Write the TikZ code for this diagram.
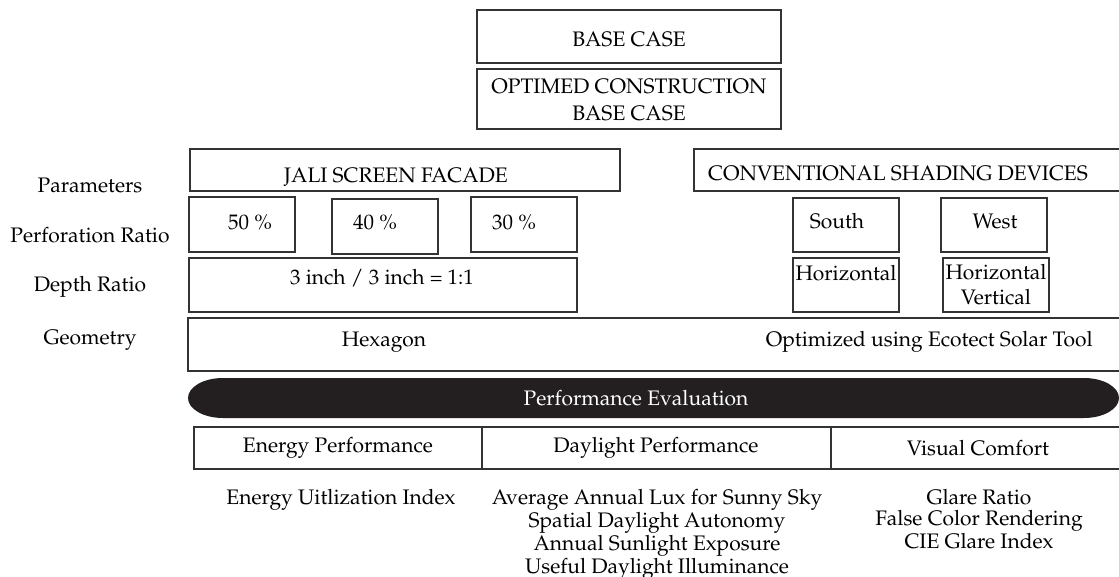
\documentclass[tikz,border=0pt]{standalone}
\usepackage[T1]{fontenc}
\usepackage{mathpazo}

\definecolor{linegray}{HTML}{333333}
\definecolor{pillblack}{HTML}{231F20}

\tikzset{
  frame/.style={draw=linegray, line width=0.75pt},
  txt/.style={inner sep=0pt, font=\fontsize{10.5}{12.6}\selectfont},
  list/.style={inner sep=0pt, align=center, font=\fontsize{10.5}{10.5}\selectfont},
}

\begin{document}
\begin{tikzpicture}[x=0.5pt, y=-0.5pt]
        \useasboundingbox (0,0) rectangle (1119,577);
        % base case boxes
        \draw[frame] (477,10) rectangle (781,63);
        \draw[frame] (477,69) rectangle (781,129);
        \node[txt] (base) at (629,39) {BASE CASE};
        \node[txt, align=center] (optimed) at (629,100) {OPTIMED CONSTRUCTION\\[1pt]BASE CASE};
        % row labels
        \foreach \l/\y [count=\i] in {Parameters/185, Perforation Ratio/235, Depth Ratio/287, Geometry/340}
          \node[txt] (label-\i) at (90,\y) {\l};
        % parameters
        \draw[frame] (190,149) rectangle (620,191);
        \draw[frame] (694,149) rectangle (1125,191);
        \node[txt] (jali) at (396,177) {JALI SCREEN FACADE};
        \node[txt] (conv) at (898,173) {CONVENTIONAL SHADING DEVICES};
        % perforation ratio
        \foreach \x/\t/\c/\p [count=\i] in {189/197/250/50, 332/199/375/40, 471/197/514/30}
          {
          \draw[frame] (\x,\t) rectangle (\x+106,\t+55);
          \node[txt] (perf-\i) at (\c,222) {\p{} \%};
          }
        \foreach \x/\c/\d [count=\i] in {793/837/South, 941/995/West}
          {
          \draw[frame] (\x,198) rectangle (\x+106,252);
          \node[txt] (side-\i) at (\c,221) {\d};
          }
        % depth ratio
        \draw[frame] (189,258) rectangle (577,312);
        \node[txt] (depth) at (382,278) {3 inch / 3 inch = 1:1};
        \draw[frame] (793,258) rectangle (899,312);
        \node[txt] (horz) at (846,273) {Horizontal};
        \draw[frame] (943,258) rectangle (1049,312);
        \node[txt, align=center] (horzvert) at (996,285) {Horizontal\\Vertical};
        % geometry
        \draw[frame] (188,318) rectangle (1125,371);
        \node[txt] (hexagon) at (384,342) {Hexagon};
        \node[txt, anchor=east] (ecotect) at (1093,342) {Optimized using Ecotect Solar Tool};
        % performance evaluation
        \fill[pillblack] (223,378) -- (1084,378)
          arc[start angle=-90, end angle=90, x radius=35, y radius=20]
          -- (223,418)
          arc[start angle=90, end angle=270, x radius=35, y radius=20] -- cycle;
        \node[txt, text=white] (evaluation) at (636,398) {Performance Evaluation};
        % criteria
        \draw[frame] (194,427) rectangle (1125,469);
        \draw[frame] (482,427) -- (482,469);
        \draw[frame] (831,427) -- (831,469);
        \foreach \l/\x [count=\i] in {Energy Performance/338, Daylight Performance/656, Visual Comfort/978}
          \node[txt] (crit-\i) at (\x,448) {\l};
        \node[list, anchor=north] (energy) at (341,489) {Energy Uitlization Index};
        \node[list, anchor=north] (daylight) at (657,489) {Average Annual Lux for Sunny Sky\\Spatial Daylight Autonomy\\Annual Sunlight Exposure\\Useful Daylight Illuminance};
        \node[list, anchor=north] (visual) at (979,489) {Glare Ratio\\False Color Rendering\\CIE Glare Index};
\end{tikzpicture}
\end{document}
